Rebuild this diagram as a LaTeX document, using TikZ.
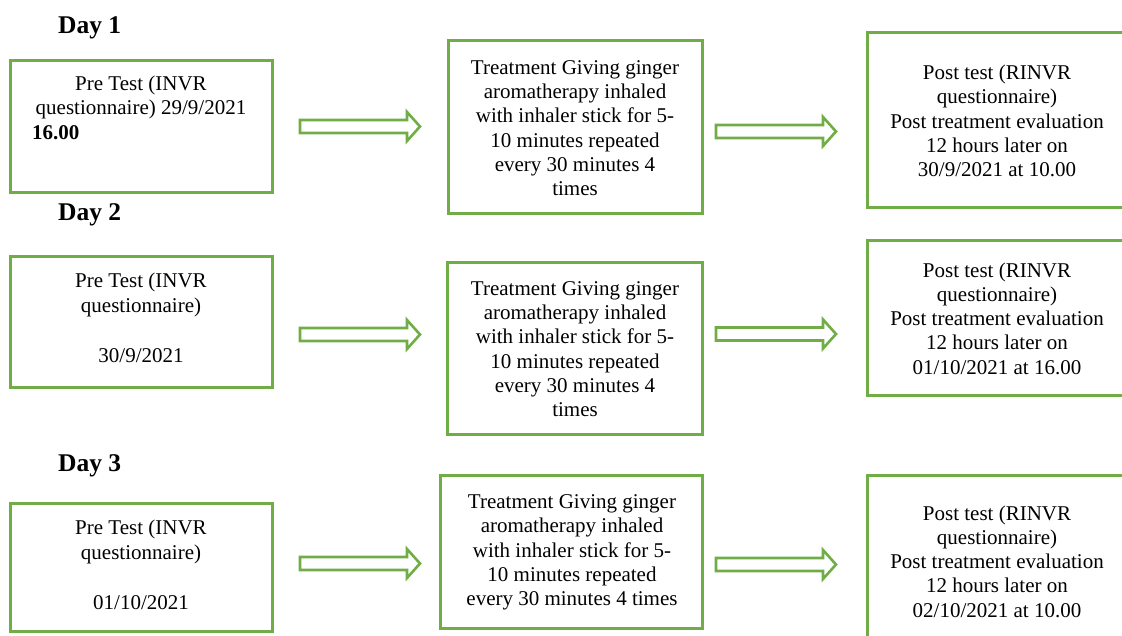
\documentclass[tikz,border=0pt]{standalone}
\usepackage{fontspec}
\setmainfont{Liberation Serif}
\definecolor{ogreen}{HTML}{70AD47}
\tikzset{
  box/.style={draw=ogreen, line width=3pt, inner sep=0pt},
  txt/.style={align=center, inner sep=0pt, font=\fontsize{21}{24.3}\selectfont},
  daylbl/.style={anchor=base west, inner sep=0pt, font=\fontsize{25.5}{30}\selectfont\bfseries},
  barrow/.style={draw=ogreen, line width=2.6pt, fill=white, line join=miter},
}
\newcommand\blockarrow[3]{%
  \draw[barrow] (#1,#3-6.5) -- (#2-13,#3-6.5) -- (#2-13,#3-14.5) -- (#2,#3)
    -- (#2-13,#3+14.5) -- (#2-13,#3+6.5) -- (#1,#3+6.5) -- cycle;}
\begin{document}
\begin{tikzpicture}[x=1pt,y=-1pt]
\useasboundingbox (0,0) rectangle (1122,635);
\clip (0,0) rectangle (1122,635);

% Day labels
\node[daylbl] (d1) at (58,33) {Day 1};
\node[daylbl] (d2) at (58,220) {Day 2};
\node[daylbl] (d3) at (58,471) {Day 3};

% Row 1
\node[box, minimum width=262pt, minimum height=132pt] (a1) at (141,126) {};
\node[txt] (a1t) at (141,97.5) {Pre Test (INVR\\questionnaire) 29/9/2021};
\node[txt, anchor=west, font=\fontsize{21}{24.3}\selectfont\bfseries] (a1b) at (32,133) {16.00};

\node[box, minimum width=254pt, minimum height=173pt] (b1) at (575,126.5) {};
\node[txt] (b1t) at (575,128) {Treatment Giving ginger\\aromatherapy inhaled\\with inhaler stick for 5-\\10 minutes repeated\\every 30 minutes 4\\times};

\node[box, minimum width=273pt, minimum height=175pt] (c1) at (1003.5,119.5) {};
\node[txt] (c1t) at (997,121) {Post test (RINVR\\questionnaire)\\Post treatment evaluation\\12 hours later on\\30/9/2021 at 10.00};

\blockarrow{300}{420}{126.5}
\blockarrow{716}{836}{131.5}

% Row 2
\node[box, minimum width=262pt, minimum height=131pt] (a2) at (141,321.5) {};
\node[txt] (a2t) at (141,318) {Pre Test (INVR\\questionnaire)\\[26pt]30/9/2021};

\node[box, minimum width=255pt, minimum height=172pt] (b2) at (574.5,348) {};
\node[txt] (b2t) at (575,349) {Treatment Giving ginger\\aromatherapy inhaled\\with inhaler stick for 5-\\10 minutes repeated\\every 30 minutes 4\\times};

\node[box, minimum width=273pt, minimum height=155pt] (c2) at (1003.5,317.5) {};
\node[txt] (c2t) at (997,318.5) {Post test (RINVR\\questionnaire)\\Post treatment evaluation\\12 hours later on\\01/10/2021 at 16.00};

\blockarrow{300}{420}{334.5}
\blockarrow{716}{836}{334}

% Row 3
\node[box, minimum width=262pt, minimum height=128pt] (a3) at (141,567) {};
\node[txt] (a3t) at (141,565) {Pre Test (INVR\\questionnaire)\\[26pt]01/10/2021};

\node[box, minimum width=262pt, minimum height=153pt] (b3) at (571,551.5) {};
\node[txt] (b3t) at (572,552.5) {Treatment Giving ginger\\aromatherapy inhaled\\with inhaler stick for 5-\\10 minutes repeated\\every 30 minutes 4 times};

\node[box, minimum width=273pt, minimum height=175pt] (c3) at (1003.5,562.5) {};
\node[txt] (c3t) at (997,561.5) {Post test (RINVR\\questionnaire)\\Post treatment evaluation\\12 hours later on\\02/10/2021 at 10.00};

\blockarrow{300}{420}{563.5}
\blockarrow{716}{836}{564.5}
\end{tikzpicture}
\end{document}
